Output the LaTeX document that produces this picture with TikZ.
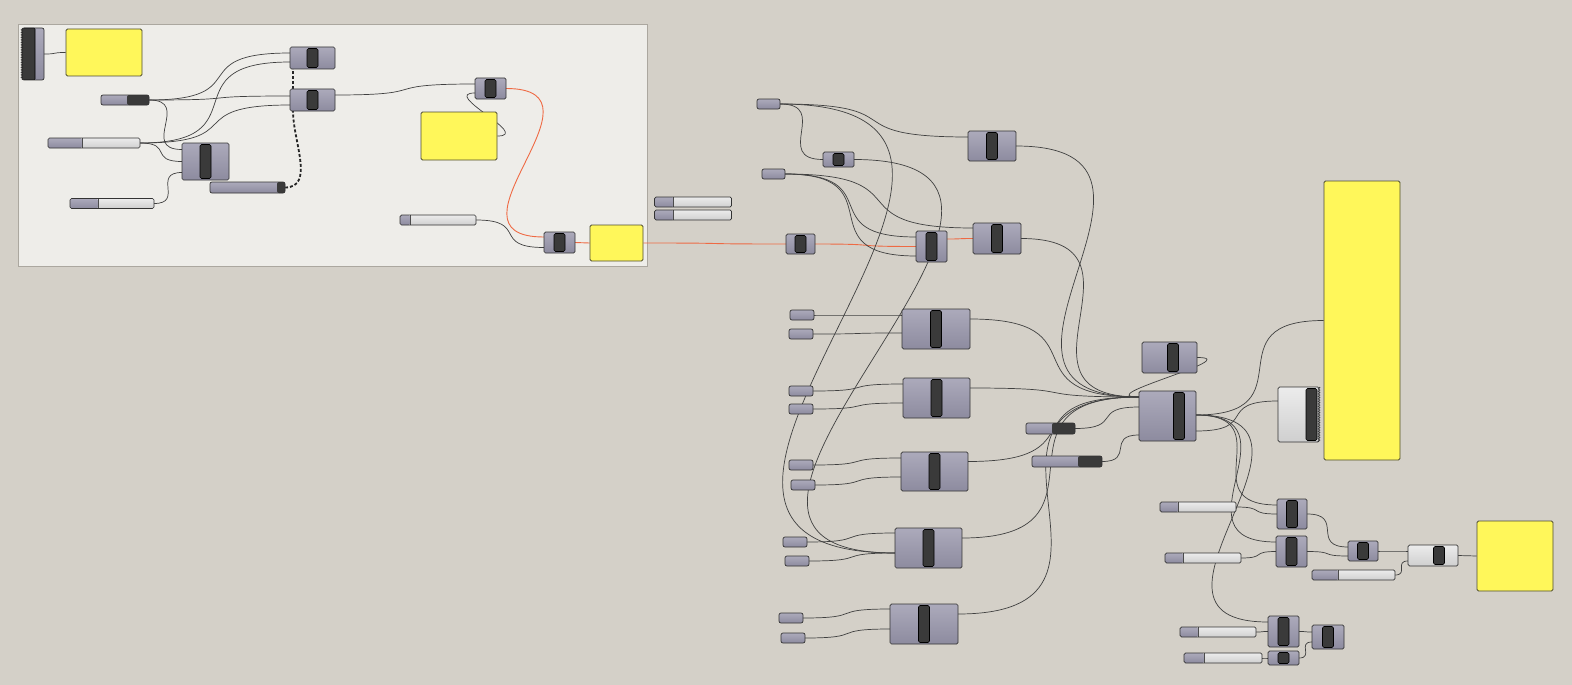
\documentclass[tikz,border=0pt]{standalone}
\usetikzlibrary{backgrounds,decorations.pathmorphing}
\definecolor{canvas}{HTML}{D4D0C8}
\definecolor{groupbg}{HTML}{EEEDE9}
\definecolor{groupline}{HTML}{ABA79F}
\definecolor{compA}{HTML}{ACAABB}
\definecolor{compB}{HTML}{8D8B9F}
\definecolor{sldA}{HTML}{ECECEC}
\definecolor{sldB}{HTML}{CFCFCF}
\definecolor{barc}{HTML}{3A3A3A}
\definecolor{panelc}{HTML}{FFF75A}
\definecolor{panelline}{HTML}{4E4C30}
\definecolor{hotwire}{HTML}{EE6A44}
\tikzstyle{gh} = [
    draw=black!80,
    line width=0.7pt,
    rounded corners=1.5pt,
    inner sep=0pt,
    outer sep=0pt
]
\tikzstyle{par} = [
    gh,
    top color=compA,
    bottom color=compB,
    rounded corners=2pt
]
\tikzstyle{panel} = [
    draw=panelline,
    line width=0.8pt,
    fill=panelc,
    rounded corners=1.5pt,
    inner sep=0pt
]
\tikzstyle{wire} = [
    draw=black!75,
    line width=0.7pt
]
\tikzstyle{hot} = [
    draw=hotwire,
    line width=0.9pt
]
\tikzstyle{multi} = [
    draw=black!85,
    line width=1.8pt,
    dash pattern=on 3pt off 2pt
]
\tikzstyle{zz} = [
    decorate,
    decoration={zigzag, segment length=2.5pt, amplitude=1pt},
    draw=black!80,
    line width=0.5pt
]
\tikzset{
    gw/.style={out=0, in=180, looseness=1.85},
    sz/.style 2 args={minimum width=#1pt, minimum height=#2pt},
    barx/.store in=\ghbarx, barx=0,
    comp/.style={gh, top color=compA, bottom color=compB,
        path picture={\draw[fill=barc, draw=black, line width=0.6pt, rounded corners=1.5pt]
            ([xshift=\ghbarx pt-5.5pt, yshift=1.5pt]path picture bounding box.south) rectangle
            ([xshift=\ghbarx pt+5.5pt, yshift=-1.5pt]path picture bounding box.north);}},
    lite/.style={top color=sldA, bottom color=sldB},
    dend/.style={path picture={\fill[barc] ([xshift=-#1pt]path picture bounding box.north east)
        rectangle (path picture bounding box.south east);}},
    dleft/.style={path picture={\draw[fill=barc, draw=black, line width=0.6pt, rounded corners=1pt]
        (path picture bounding box.south west) rectangle ([xshift=#1pt]path picture bounding box.north west);}},
    slider/.style={gh, top color=sldA, bottom color=sldB,
        path picture={\shade[top color=compA, bottom color=compB] (path picture bounding box.south west)
            rectangle ([xshift=#1pt]path picture bounding box.north west);
            \draw[black!70, line width=0.5pt] ([xshift=#1pt]path picture bounding box.south west)
            -- ([xshift=#1pt]path picture bounding box.north west);}}
}
\begin{document}
\begin{tikzpicture}[x=1pt, y=-1pt]
        \useasboundingbox (0,0) rectangle (1572,685);

        % Group on the left
        \node[par, dleft=13, sz={22}{52}] (A) at (33,54) {};
        \node[panel, sz={76}{47}] (P1) at (104,52.5) {};
        \node[par, dend=22, sz={48}{10}] (B) at (125,100) {};
        \node[slider=34, sz={92}{10}] (S1) at (94,143) {};
        \node[slider=28, sz={84}{10}] (S2) at (112,203.5) {};
        \node[comp, sz={47}{37}] (C1) at (205.5,161.5) {};
        \node[comp, sz={45}{22}] (C2) at (312.5,58) {};
        \node[comp, sz={45}{22}] (C3) at (312.5,100) {};
        \node[par, dend=8, sz={75}{11}] (D) at (247.5,187.5) {};
        \node[comp, sz={31}{21}] (C4) at (490.5,88.5) {};
        \node[panel, sz={76}{48}] (P2) at (459,136) {};
        \node[slider=10, sz={76}{10}] (S3) at (438,220) {};
        \node[comp, sz={31}{21}] (C5) at (559.5,242.5) {};
        \node[panel, sz={53}{36}] (P3) at (616.5,243) {};
        \draw[zz] (A.north west) -- (A.south west);

        % Loose sliders
        \node[slider=19, sz={77}{10}] (S4) at (693,202) {};
        \node[slider=19, sz={77}{10}] (S5) at (693,215) {};

        % Upper chain
        \node[par, sz={23}{10}] (R1) at (768.5,104) {};
        \node[par, sz={23}{10}] (R2) at (773.5,174) {};
        \node[comp, sz={31}{15}] (E0) at (838.5,159.5) {};
        \node[comp, sz={29}{20}] (E1) at (800.5,244) {};
        \node[comp, sz={48}{30}] (E2) at (992,146) {};
        \node[comp, sz={31}{31}] (E3) at (931.5,246.5) {};
        \node[comp, sz={48}{31}] (E4) at (997,238.5) {};

        % Column of components
        \node[par, sz={24}{10}] (G1) at (802,315) {};
        \node[par, sz={24}{10}] (G2) at (801,334) {};
        \node[par, sz={24}{10}] (G3) at (801,391) {};
        \node[par, sz={24}{10}] (G4) at (801,409) {};
        \node[par, sz={24}{10}] (G5) at (801,465) {};
        \node[par, sz={24}{10}] (G6) at (803,485) {};
        \node[par, sz={24}{10}] (G7) at (795,542) {};
        \node[par, sz={24}{10}] (G8) at (797,561) {};
        \node[par, sz={24}{10}] (G9) at (791,618) {};
        \node[par, sz={24}{10}] (G10) at (793,638) {};
        \node[comp, sz={68}{40}] (F1) at (936,329) {};
        \node[comp, sz={67}{40}] (F2) at (936.5,398) {};
        \node[comp, sz={67}{39}] (F3) at (934.5,471.5) {};
        \node[comp, sz={67}{40}] (F4) at (928.5,548) {};
        \node[comp, sz={68}{40}] (F5) at (924,624) {};

        % Hub
        \node[par, dend=23, sz={49}{11}] (H1) at (1050.5,428.5) {};
        \node[par, dend=24, sz={70}{11}] (H2) at (1067,461.5) {};
        \node[comp, barx=11.5, sz={57}{50}] (K) at (1167.5,416) {};
        \node[comp, barx=3.5, sz={55}{31}] (K0) at (1169.5,357.5) {};
        \node[panel, sz={76}{279}] (P4) at (1362,320.5) {};
        \node[comp, lite, barx=13, sz={41}{55}] (L) at (1298.5,414.5) {};
        \draw[zz] (L.north east) -- (L.south east);

        % Lower right
        \node[slider=18, sz={76}{10}] (T1) at (1198,507) {};
        \node[slider=18, sz={76}{10}] (T2) at (1203,558) {};
        \node[comp, sz={30}{30}] (M1) at (1292,514) {};
        \node[comp, sz={31}{31}] (M2) at (1291.5,551.5) {};
        \node[comp, sz={30}{20}] (M3) at (1363,551) {};
        \node[comp, lite, barx=6, sz={50}{21}] (M4) at (1433,555.5) {};
        \node[slider=26, sz={83}{10}] (T3) at (1353.5,575) {};
        \node[panel, sz={76}{70}] (P5) at (1515,556) {};
        \node[comp, sz={31}{31}] (N1) at (1283.5,631.5) {};
        \node[comp, sz={31}{14}] (N2) at (1283.5,658) {};
        \node[comp, sz={32}{24}] (N3) at (1328,637) {};
        \node[slider=18, sz={76}{10}] (T4) at (1218,632) {};
        \node[slider=20, sz={78}{10}] (T5) at (1223,658) {};

        \begin{scope}[on background layer]
            \fill[canvas] (0,0) rectangle (1572,685);
            \draw[fill=groupbg, draw=groupline, line width=0.8pt] (18,24) rectangle (647,266);

            % Wires in the group
            \draw[wire] (A.east) to[gw] (P1.west);
            \draw[wire] (B.east) to[gw] ([yshift=5pt]C2.west);
            \draw[wire] (B.east) to[gw] ([yshift=4pt]C3.west);
            \draw[wire] (B.east) to[gw] ([yshift=12pt]C1.west);
            \draw[wire] (S1.east) to[gw] ([yshift=-4pt]C2.west);
            \draw[wire] (S1.east) to[gw] ([yshift=-5pt]C3.west);
            \draw[wire] (S1.east) to[gw] (C1.west);
            \draw[wire] (S2.east) to[gw] ([yshift=-11pt]C1.west);
            \draw[multi] (D.east) to[out=0,in=-90] ([xshift=3pt]C3.south west);
            \draw[multi] ([xshift=3pt]C3.north west) -- ([xshift=3pt]C2.south west);
            \draw[wire] ([yshift=5pt]C3.east) to[gw] ([yshift=4.5pt]C4.west);
            \draw[wire] (P2.east) to[gw] ([yshift=-4.5pt]C4.west);
            \draw[hot] (C4.east) to[gw] ([yshift=5.5pt]C5.west);
            \draw[wire] (S3.east) to[gw] ([yshift=-5pt]C5.west);
            \draw[hot] (C5.east) -- (P3.west);
            \draw[hot] (P3.east) to[gw] (E1.west);

            % Wires on the right
            \draw[hot] (E1.east) to[gw] (E3.west);
            \draw[hot] ([yshift=7.5pt]E3.east) to[gw] (E4.west);
            \draw[wire] (R1.east) to[gw] (E0.west);
            \draw[wire] (R1.east) to[gw] ([yshift=9pt]E2.west);
            \draw[wire] (R1.east) to[gw] ([yshift=-5pt]F4.west);
            \draw[wire] (E0.east) to[gw] ([yshift=-5pt]F4.west);
            \draw[wire] (R2.east) to[gw] ([yshift=10.5pt]E4.west);
            \draw[wire] (R2.east) to[gw] ([yshift=9.5pt]E3.west);
            \draw[wire] (R2.east) to[gw] ([yshift=-9.5pt]E3.west);
            \draw[wire] (G1.east) to[gw] ([yshift=14pt]F1.west);
            \draw[wire] (G2.east) to[gw] ([yshift=-4pt]F1.west);
            \draw[wire] (G3.east) to[gw] ([yshift=14pt]F2.west);
            \draw[wire] (G4.east) to[gw] ([yshift=-5pt]F2.west);
            \draw[wire] (G5.east) to[gw] ([yshift=13.5pt]F3.west);
            \draw[wire] (G6.east) to[gw] ([yshift=-5.5pt]F3.west);
            \draw[wire] (G7.east) to[gw] ([yshift=15pt]F4.west);
            \draw[wire] (G8.east) to[gw] ([yshift=-5pt]F4.west);
            \draw[wire] (G9.east) to[gw] ([yshift=15pt]F5.west);
            \draw[wire] (G10.east) to[gw] ([yshift=-5pt]F5.west);
            \foreach \f in {E2,E4,K0} {
                \draw[wire] (\f.east) to[gw] ([yshift=19pt]K.west);
            }
            \foreach \f in {F1,F2,F3,F4,F5} {
                \draw[wire] ([yshift=10pt]\f.east) to[gw] ([yshift=19pt]K.west);
            }
            \draw[wire] (H1.east) to[gw] ([yshift=9pt]K.west);
            \draw[wire] (H2.east) to[gw] ([yshift=-19pt]K.west);
            \draw[wire] ([yshift=1pt]K.east) to[gw] (P4.west);
            \draw[wire] ([yshift=-15pt]K.east) to[gw] ([yshift=13.5pt]L.west);
            \draw[wire] ([yshift=1pt]K.east) to[gw] ([yshift=9pt]M1.west);
            \draw[wire] ([yshift=1pt]K.east) to[gw] ([yshift=9.5pt]M2.west);
            \draw[wire] ([yshift=1pt]K.east) to[gw] ([yshift=9.5pt]N1.west);
            \draw[wire] (T1.east) to[gw] (M1.west);
            \draw[wire] (T2.east) to[gw] (M2.west);
            \draw[wire] (T4.east) to[gw] (N1.west);
            \draw[wire] (T5.east) to[gw] (N2.west);
            \draw[wire] (M1.east) to[gw] ([yshift=4pt]M3.west);
            \draw[wire] (M2.east) to[gw] ([yshift=-5pt]M3.west);
            \draw[wire] (M3.east) to[gw] ([yshift=4.5pt]M4.west);
            \draw[wire] (T3.east) to[gw] ([yshift=-5.5pt]M4.west);
            \draw[wire] (M4.east) -- (P5.west);
            \draw[wire] (N1.east) to[gw] ([yshift=5pt]N3.west);
            \draw[wire] (N2.east) to[gw] ([yshift=-5pt]N3.west);
        \end{scope}
    \end{tikzpicture}
\end{document}
